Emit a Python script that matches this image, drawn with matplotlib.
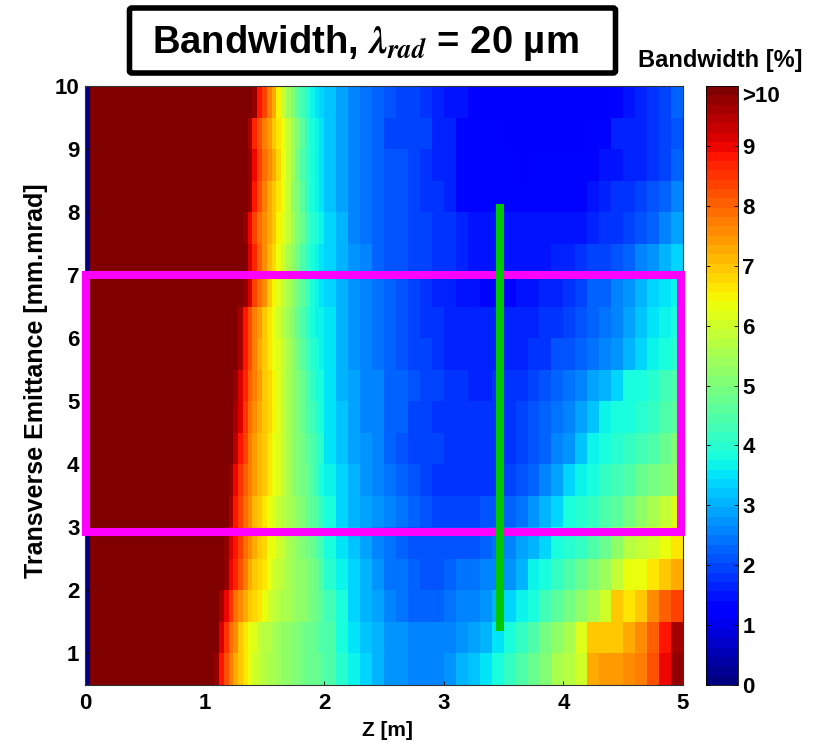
import matplotlib
matplotlib.use("Agg")
import matplotlib.pyplot as plt
import numpy as np
from matplotlib.patches import FancyBboxPatch, Rectangle

plt.rcParams['font.family'] = ['Liberation Sans', 'DejaVu Sans']
plt.rcParams['font.weight'] = 'bold'
plt.rcParams['mathtext.fontset'] = 'stix'

z_edges = [0, 0.04, 1.04, 1.08, 1.12, 1.16, 1.20, 1.24, 1.28, 1.32, 1.36, 1.40, 1.44, 1.48, 1.52, 1.56, 1.60,
           1.64, 1.68, 1.72, 1.76, 1.80, 1.84, 1.88, 1.92, 1.96, 2.0,
           2.1, 2.2, 2.3, 2.4, 2.5, 2.6, 2.7, 2.8, 2.9, 3.0, 3.1, 3.2, 3.3, 3.4, 3.5, 3.6, 3.7, 3.8, 3.9, 4.0,
           4.1, 4.2, 4.3, 4.4, 4.5, 4.6, 4.7, 4.8, 4.9, 5.0]
emit_edges = [0.5, 1, 1.5, 2, 2.5, 3, 3.5, 4, 4.5, 5, 5.5, 6, 6.5, 7, 7.5, 8, 8.5, 9, 9.5, 10]

row_00 = [0, 11, 11, 9.7, 8.9, 8.2, 7.7, 7.2, 6.9, 6.6, 6.3, 6.0, 5.8, 5.7, 5.6, 5.5, 5.4, 5.3, 5.2, 5.1, 5.0, 4.9, 4.8, 4.75, 4.7, 4.6,
          4.4, 4.0, 3.7, 3.3, 3.0, 2.75, 2.7, 2.65, 2.55, 2.6, 2.8, 3.0, 3.2, 3.5, 3.8, 4.2, 4.4, 4.7, 5.1, 5.5, 5.7, 6.0, 7.3, 7.4, 7.4, 7.6, 7.8, 8.2, 9.0, 9.8]
row_01 = [0, 11, 11, 10, 9.2, 8.5, 7.9, 7.5, 7.0, 6.7, 6.4, 6.2, 5.9, 5.75, 5.65, 5.55, 5.4, 5.3, 5.2, 5.1, 5.0, 4.9, 4.8, 4.75, 4.65, 4.5,
          4.4, 3.9, 3.5, 3.2, 3.0, 2.8, 2.7, 2.55, 2.5, 2.5, 2.6, 2.8, 2.9, 3.0, 3.5, 3.9, 4.2, 4.5, 4.9, 5.3, 5.6, 6.1, 7.0, 7.0, 7.0, 7.2, 7.5, 8.0, 8.8, 9.6]
row_02 = [0, 11, 11, 11, 9.6, 9.0, 8.5, 7.9, 7.6, 7.3, 7.0, 6.8, 6.6, 6.4, 6.0, 5.8, 5.7, 5.6, 5.5, 5.4, 5.3, 5.2, 5.05, 4.9, 4.75, 4.6,
          4.3, 3.9, 3.4, 3.1, 2.9, 2.5, 2.45, 2.3, 2.3, 2.3, 2.35, 2.5, 2.6, 2.7, 3.0, 3.3, 3.7, 3.9, 4.3, 4.6, 4.9, 5.3, 5.6, 6.0, 6.9, 6.6, 6.9, 7.5, 8.1, 8.4]
row_03 = [0, 11, 11, 11, 10.5, 9.7, 9.0, 8.6, 8.2, 7.7, 7.3, 7.0, 6.8, 6.6, 6.4, 6.0, 5.8, 5.7, 5.55, 5.45, 5.3, 5.2, 5.0, 4.85, 4.7, 4.5,
          4.0, 3.7, 3.3, 3.0, 2.8, 2.45, 2.35, 2.2, 2.15, 2.15, 2.2, 2.35, 2.4, 2.5, 2.55, 2.7, 3.1, 3.6, 3.9, 4.2, 4.4, 4.7, 5.0, 5.4, 5.9, 6.4, 6.4, 6.7, 6.9, 7.2]
row_04 = [0, 11, 11, 11, 10.5, 9.8, 9.2, 8.9, 8.4, 7.9, 7.5, 7.2, 7.0, 6.8, 6.4, 6.3, 6.0, 5.8, 5.6, 5.4, 5.2, 5.1, 4.9, 4.7, 4.5, 4.3,
          3.9, 3.5, 3.2, 2.9, 2.6, 2.4, 2.3, 2.1, 2.1, 2.1, 2.1, 2.1, 2.15, 2.3, 2.35, 2.6, 2.9, 3.1, 3.4, 3.75, 4.0, 4.2, 4.5, 4.7, 5.2, 5.7, 5.8, 6.0, 6.3, 6.6]
row_05 = [0, 11, 11, 11, 11, 10.2, 9.6, 8.9, 8.4, 7.9, 7.5, 7.1, 6.9, 6.6, 6.4, 6.1, 5.9, 5.75, 5.6, 5.4, 5.2, 5.0, 4.8, 4.6, 4.4, 4.2,
          3.8, 3.4, 3.1, 2.9, 2.75, 2.55, 2.4, 2.3, 2.1, 1.95, 1.95, 1.95, 2.0, 2.15, 2.15, 2.25, 2.4, 2.7, 3.0, 3.4, 3.75, 4.0, 4.2, 4.4, 4.6, 4.9, 5.2, 5.5, 5.8, 6.2]
row_06 = [0, 11, 11, 11, 11, 10.3, 9.7, 9.0, 8.5, 8.1, 7.7, 7.4, 7.1, 6.9, 6.7, 6.4, 6.1, 5.8, 5.6, 5.3, 5.1, 4.9, 4.7, 4.4, 4.1, 3.85,
          3.7, 3.3, 3.0, 2.8, 2.6, 2.35, 2.25, 2.1, 1.9, 1.85, 1.85, 1.85, 1.85, 1.85, 1.85, 1.95, 2.1, 2.3, 2.6, 2.9, 3.3, 3.7, 3.9, 4.1, 4.3, 4.5, 4.7, 4.9, 5.1, 5.3]
row_07 = [0, 11, 11, 11, 11, 11, 10.2, 9.5, 8.9, 8.3, 7.8, 7.4, 7.1, 6.9, 6.6, 6.4, 6.1, 5.8, 5.6, 5.3, 5.1, 4.9, 4.6, 4.4, 4.2, 4.0,
          3.5, 3.2, 2.95, 2.7, 2.5, 2.3, 2.15, 2.0, 1.95, 1.9, 1.8, 1.8, 1.8, 1.8, 1.8, 1.85, 1.95, 2.1, 2.2, 2.5, 2.8, 3.2, 3.7, 3.8, 3.95, 4.1, 4.3, 4.5, 4.8, 5.0]
row_08 = [0, 11, 11, 11, 11, 11, 10.2, 9.6, 9.1, 8.5, 7.9, 7.6, 7.3, 7.0, 6.8, 6.5, 6.2, 5.9, 5.6, 5.3, 5.0, 4.8, 4.5, 4.3, 4.0, 3.85,
          3.5, 3.15, 2.9, 2.65, 2.5, 2.3, 2.2, 2.0, 1.95, 1.8, 1.75, 1.75, 1.75, 1.75, 1.75, 1.8, 1.9, 2.05, 2.2, 2.35, 2.6, 2.85, 3.2, 3.6, 3.8, 3.9, 4.0, 4.2, 4.4, 4.6]
row_09 = [0, 11, 11, 11, 11, 11, 10.5, 9.7, 9.1, 8.6, 8.1, 7.7, 7.4, 7.0, 6.8, 6.5, 6.2, 5.9, 5.6, 5.3, 5.0, 4.7, 4.5, 4.2, 3.9, 3.75,
          3.5, 3.1, 2.85, 2.65, 2.5, 2.25, 2.2, 2.05, 1.95, 1.9, 1.8, 1.75, 1.7, 1.7, 1.75, 1.8, 1.85, 1.95, 2.05, 2.2, 2.4, 2.55, 2.85, 3.1, 3.4, 3.75, 3.85, 3.95, 4.25, 4.5]
row_10 = [0, 11, 11, 11, 11, 11, 11, 10.2, 9.6, 8.8, 8.2, 7.7, 7.3, 7.0, 6.7, 6.4, 6.1, 5.8, 5.5, 5.2, 4.9, 4.6, 4.3, 4.0, 3.8, 3.7,
          3.5, 3.1, 2.8, 2.6, 2.4, 2.25, 2.05, 1.95, 1.9, 1.8, 1.65, 1.65, 1.65, 1.65, 1.65, 1.65, 1.7, 1.8, 1.85, 2.05, 2.1, 2.3, 2.4, 2.5, 2.8, 3.1, 3.4, 3.7, 3.85, 3.95]
row_11 = [0, 11, 11, 11, 11, 11, 11, 10.3, 9.6, 8.8, 8.2, 7.8, 7.4, 7.0, 6.7, 6.4, 6.0, 5.7, 5.4, 5.1, 4.8, 4.5, 4.2, 3.9, 3.7, 3.6,
          3.45, 3.1, 2.8, 2.6, 2.4, 2.2, 2.1, 1.95, 1.85, 1.8, 1.65, 1.65, 1.65, 1.65, 1.65, 1.6, 1.6, 1.65, 1.75, 1.8, 2.0, 2.05, 2.2, 2.35, 2.55, 2.95, 3.25, 3.5, 3.65, 3.75]
row_12 = [0, 11, 11, 11, 11, 11, 11, 11, 11, 9.7, 9.2, 8.4, 7.9, 7.5, 7.0, 6.5, 6.1, 5.8, 5.5, 5.2, 4.9, 4.6, 4.3, 3.9, 3.7, 3.5,
          3.3, 3.1, 2.8, 2.6, 2.35, 2.2, 2.05, 1.9, 1.8, 1.65, 1.6, 1.55, 1.55, 1.4, 1.4, 1.4, 1.45, 1.55, 1.6, 1.6, 1.8, 2.0, 2.2, 2.3, 2.5, 2.8, 3.1, 3.4, 3.5, 3.6]
row_13 = [0, 11, 11, 11, 11, 11, 11, 11, 11, 9.9, 9.2, 8.6, 8.0, 7.5, 7.1, 6.8, 6.4, 6.0, 5.6, 5.2, 4.9, 4.5, 4.2, 3.9, 3.7, 3.5,
          3.4, 3.1, 2.75, 2.5, 2.25, 2.1, 2.05, 1.95, 1.9, 1.8, 1.75, 1.7, 1.5, 1.5, 1.5, 1.5, 1.5, 1.5, 1.5, 1.7, 1.7, 1.75, 1.9, 2.0, 2.15, 2.3, 2.5, 2.8, 3.05, 3.3]
row_14 = [0, 11, 11, 11, 11, 11, 11, 11, 11, 9.8, 9.0, 8.4, 7.9, 7.5, 7.2, 6.9, 6.5, 6.2, 5.8, 5.4, 5.0, 4.7, 4.3, 4.0, 3.75, 3.6,
          3.3, 3.0, 2.65, 2.4, 2.2, 2.1, 2.1, 1.95, 1.9, 1.75, 1.75, 1.7, 1.45, 1.45, 1.45, 1.45, 1.45, 1.45, 1.45, 1.45, 1.45, 1.55, 1.6, 1.8, 1.85, 2.0, 2.15, 2.3, 2.6, 2.85]
row_15 = [0, 11, 11, 11, 11, 11, 11, 11, 11, 11, 9.7, 8.9, 8.2, 7.8, 7.3, 7.0, 6.7, 6.3, 5.8, 5.3, 5.0, 4.6, 4.2, 3.8, 3.65, 3.5,
          3.25, 2.95, 2.6, 2.4, 2.2, 2.1, 2.05, 1.9, 1.85, 1.75, 1.7, 1.35, 1.35, 1.35, 1.35, 1.35, 1.35, 1.35, 1.35, 1.35, 1.35, 1.35, 1.55, 1.6, 1.75, 1.8, 1.95, 2.1, 2.25, 2.5]
row_16 = [0, 11, 11, 11, 11, 11, 11, 11, 11, 11, 9.7, 9.0, 8.4, 7.9, 7.6, 7.2, 6.8, 6.4, 5.9, 5.4, 4.9, 4.5, 4.1, 3.75, 3.6, 3.5,
          3.2, 2.9, 2.6, 2.4, 2.2, 2.1, 2.05, 1.9, 1.85, 1.7, 1.7, 1.35, 1.35, 1.35, 1.35, 1.35, 1.1, 1.3, 1.3, 1.3, 1.3, 1.3, 1.3, 1.45, 1.55, 1.65, 1.7, 1.85, 1.95, 2.2]
row_17 = [0, 11, 11, 11, 11, 11, 11, 11, 11, 11, 9.6, 8.7, 8.2, 7.8, 7.4, 7.0, 6.7, 6.4, 5.9, 5.4, 5.0, 4.6, 4.2, 3.8, 3.65, 3.5,
          3.2, 2.9, 2.6, 2.4, 2.25, 2.0, 1.95, 1.95, 1.9, 1.65, 1.65, 1.35, 1.35, 1.35, 1.35, 1.1, 1.1, 1.1, 1.1, 1.1, 1.1, 1.1, 1.3, 1.3, 1.6, 1.6, 1.6, 1.8, 1.9, 2.15]
row_18 = [0, 11, 11, 11, 11, 11, 11, 11, 11, 11, 11, 9.7, 8.9, 8.3, 7.7, 7.2, 6.5, 5.9, 5.4, 5.0, 4.6, 4.3, 4.0, 3.7, 3.55, 3.4,
          3.2, 2.85, 2.6, 2.4, 2.3, 2.1, 2.0, 1.9, 1.75, 1.6, 1.5, 1.45, 1.4, 1.2, 1.1, 1.1, 1.1, 1.1, 1.1, 1.1, 1.1, 1.1, 1.1, 1.1, 1.4, 1.5, 1.65, 1.8, 2.0, 2.3]

bandwidth_rows = [row_00, row_01, row_02, row_03, row_04, row_05, row_06, row_07, row_08, row_09,
                  row_10, row_11, row_12, row_13, row_14, row_15, row_16, row_17, row_18]

x_ticks = [0, 1, 2, 3, 4, 5]
y_ticks = [1, 2, 3, 4, 5, 6, 7, 8, 9, 10]
cbar_ticks = [0, 1, 2, 3, 4, 5, 6, 7, 8, 9, 10]
cbar_labels = ['0', '1', '2', '3', '4', '5', '6', '7', '8', '9', '>10']
box_z = [0.01, 4.98]
box_emit = [2.93, 7]
green_z = [3.47, 3.47]
green_emit = [1.35, 8.13]

W, H = 819, 744
fig = plt.figure(figsize=(W / 100, H / 100), dpi=100)
ax = fig.add_axes([85 / W, (H - 685) / H, 598 / W, 599 / H])
cmap = plt.get_cmap('jet', 64)
mesh = ax.pcolormesh(z_edges, emit_edges, np.array(bandwidth_rows), cmap=cmap, vmin=0, vmax=10, shading='flat')
ax.set_xlim(0, 5)
ax.set_ylim(0.5, 10)
ax.set_xticks(x_ticks)
ax.set_yticks(y_ticks)
ax.tick_params(direction='in', length=3, width=0.6, labelsize=16, pad=4)
ax.tick_params(axis='x', pad=6)
for s in ax.spines.values():
    s.set_linewidth(0.8)
    s.set_color('#333333')
ax.set_xlabel('Z [m]', fontsize=15, fontweight='bold')
ax.set_ylabel('Transverse Emittance [mm.mrad]', fontsize=18, fontweight='bold')
ax.xaxis.set_label_coords((387 - 85) / 598, (685 - 731) / 599)
ax.xaxis.label.set_verticalalignment('center')
ax.yaxis.set_label_coords((36 - 85) / 598, (685 - 381) / 599)
ax.yaxis.label.set_verticalalignment('center')

ax.plot(green_z, green_emit, color='#00c800', lw=5.8, solid_capstyle='butt', zorder=4, clip_on=False)
ax.add_patch(Rectangle((box_z[0], box_emit[0]), box_z[1] - box_z[0], box_emit[1] - box_emit[0],
                       fill=False, ec='#ff00ff', lw=5.8, zorder=3, clip_on=False))

cax = fig.add_axes([706 / W, (H - 685) / H, 32 / W, 599 / H])
cb = fig.colorbar(mesh, cax=cax)
cb.set_ticks(cbar_ticks)
cb.set_ticklabels(cbar_labels)
cb.ax.tick_params(direction='in', length=3, width=0.6, labelsize=16, pad=3, left=True, right=True)
cb.outline.set_linewidth(0.6)
cb.ax.get_yticklabels()[-1].set_verticalalignment('top')
fig.text(720 / W, 1 - 60 / H, 'Bandwidth [%]', fontsize=17, fontweight='bold', ha='center', va='center')

fig.add_artist(FancyBboxPatch((129.5 / W, 1 - 73 / H), 486 / W, 65 / H, transform=fig.transFigure,
                              boxstyle='round,pad=0,rounding_size=0.003', fc='white', ec='black', lw=4, mutation_aspect=1))
fig.text(365 / W, 1 - 43 / H, 'Bandwidth, $\\lambda_{rad}$ = 20 µm', fontsize=27.5, fontweight='bold',
         ha='center', va='center')

fig.savefig('out.png', dpi=100)
